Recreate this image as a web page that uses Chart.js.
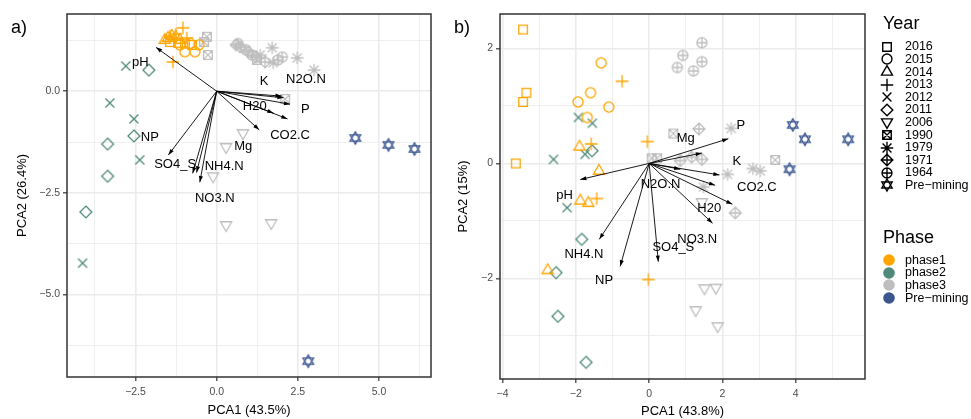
<!DOCTYPE html>
<html>
<head>
<meta charset="utf-8">
<script src="https://cdn.jsdelivr.net/npm/chart.js@4.4.1/dist/chart.umd.min.js"></script>
<style>
body { margin:0; background:#fff; font-family:"Liberation Sans", Arial, sans-serif; }
#wrap { position:relative; width:971px; height:419px; overflow:hidden; }
canvas.plot { position:absolute; top:0; }
.panel { position:absolute; top:18px; font-size:18px; line-height:18px; }
.lgTitle { position:absolute; left:883px; font-size:18px; line-height:18px; }
.lgRow { position:absolute; left:905px; font-size:12.5px; line-height:12.6px; white-space:nowrap; }
.lgKey { position:absolute; }
</style>
</head>
<body>
<div id="wrap">
  <canvas id="pa" class="plot" width="440" height="419" style="left:0"></canvas>
  <canvas id="pb" class="plot" width="430" height="419" style="left:440px"></canvas>
  <div class="panel" style="left:11px">a)</div>
  <div class="panel" style="left:454px">b)</div>
  <div id="legend"></div>
</div>
<script>
// categories
const years = ['2016', '2015', '2014', '2013', '2012', '2011', '2006', '1990', '1979', '1971', '1964', 'Pre−mining'];
const yearPhase = [0, 0, 0, 0, 1, 1, 2, 2, 2, 2, 2, 3];
const phases = ['phase1', 'phase2', 'phase3', 'Pre−mining'];
const loadNames = ['pH', 'K', 'N2O.N', 'P', 'H20', 'CO2.C', 'Mg', 'NP', 'SO4_S', 'NH4.N', 'NO3.N'];

// panel a scores (PCA1, PCA2)
const a2016 = [[-1.44, 1.21], [-1.19, 1.19], [-0.98, 1.17], [-0.76, 1.14]];
const a2015 = [[-0.98, 0.97], [-0.67, 0.97], [-0.82, 1.17], [-0.55, 1.14], [-1.13, 1.14]];
const a2014 = [[-1.50, 1.31], [-1.38, 1.36], [-1.26, 1.34], [-1.13, 1.26], [-1.60, 1.26]];
const a2013 = [[-1.04, 1.56], [-1.35, 0.72], [-1.26, 1.41], [-0.92, 1.31], [-1.44, 1.36]];
const a2012 = [[-2.80, 0.62], [-3.29, -0.29], [-2.55, -0.68], [-2.37, -1.69], [-4.13, -4.23]];
const a2011 = [[-2.09, 0.52], [-2.55, -1.10], [-3.36, -1.30], [-3.36, -2.09], [-4.03, -2.97]];
const a2006 = [[0.81, -1.03], [0.29, -1.37], [-0.11, -2.09], [0.29, -3.29], [1.68, -3.24]];
const a1990 = [[-0.30, 1.34], [-0.39, 1.21], [-0.27, 0.89], [2.11, -0.19], [1.24, 0.77]];
const a1979 = [[1.71, 1.07], [2.48, 0.82], [3.00, 0.52], [1.74, 0.70], [1.34, 0.89]];
const a1971 = [[0.72, 1.09], [0.97, 0.97], [1.21, 0.84], [1.49, 0.72], [0.60, 1.14]];
const a1964 = [[0.66, 1.17], [0.90, 1.02], [1.09, 0.89], [1.89, 0.77], [2.02, 0.84]];
const aPre = [[4.27, -1.15], [5.29, -1.32], [6.09, -1.42], [2.82, -6.64]];

// panel b scores
const b2016 = [[-3.44, 2.33], [-3.35, 1.23], [-3.44, 1.07], [-3.64, 0.00]];
const b2015 = [[-1.31, 1.75], [-1.60, 1.23], [-1.94, 1.07], [-1.10, 0.98], [-1.69, 0.80]];
const b2014 = [[-1.90, 0.29], [-1.37, -0.13], [-1.88, -0.65], [-1.66, -0.69], [-2.77, -1.86]];
const b2013 = [[-0.74, 1.43], [-0.05, 0.38], [-1.58, 0.34], [-1.43, -0.61], [-0.02, -2.02]];
const b2012 = [[-1.93, 0.80], [-1.55, 0.70], [-2.61, 0.07], [-1.75, 0.16], [-2.24, -0.77]];
const b2011 = [[-1.56, 0.22], [-1.84, -1.32], [-2.54, -1.90], [-2.49, -2.66], [-1.72, -3.46]];
const b2006 = [[1.44, -0.67], [1.51, -2.17], [1.82, -2.16], [1.27, -2.55], [1.87, -2.83]];
const b1990 = [[0.66, 0.52], [0.07, 0.09], [0.22, 0.09], [3.44, 0.06]];
const b1979 = [[2.24, 0.61], [2.14, -0.19], [2.83, -0.09], [3.03, -0.13], [1.48, -0.41]];
const b1971 = [[1.36, 0.60], [0.85, 0.05], [1.16, 0.11], [1.44, 0.07], [2.35, -0.86]];
const b1964 = [[1.44, 2.10], [0.92, 1.88], [1.44, 1.77], [0.77, 1.67], [1.21, 1.61]];
const bPre = [[3.92, 0.67], [4.25, 0.42], [5.43, 0.42], [3.83, -0.10]];

// loadings (arrow tips) and label positions, same order as loadNames
const aLoadX = [-1.87, 2.00, 2.06, 2.26, 2.18, 1.31, 1.75, -0.74, -1.49, -0.62, -0.52];
const aLoadY = [1.08, -0.12, -0.16, -0.32, -0.68, -0.95, -0.54, -2.02, -1.57, -2.00, -2.24];
const aLabX = [-2.35, 1.46, 2.75, 2.73, 1.17, 2.26, 0.82, -2.06, -1.28, 0.23, -0.06];
const aLabY = [0.70, 0.25, 0.28, -0.44, -0.38, -1.08, -1.36, -1.13, -1.79, -1.86, -2.64];

const bLoadX = [-1.88, 0.85, 1.80, 2.16, 2.27, 1.92, 1.44, -0.79, 0.25, -1.36, 1.73];
const bLoadY = [-0.28, -0.10, -0.38, 0.43, -0.71, -0.20, 0.18, -1.79, -1.71, -1.32, -1.04];
const bLabX = [-2.31, 2.39, 0.31, 2.50, 1.64, 2.94, 1.00, -1.23, 0.66, -1.78, 1.31];
const bLabY = [-0.55, 0.03, -0.36, 0.67, -0.78, -0.41, 0.43, -2.04, -1.46, -1.59, -1.32];

// styles
const yearShapes = ['square', 'circle', 'triangle', 'plus', 'cross', 'diamond', 'triangleDown',
                    'squareCross', 'asterisk', 'diamondPlus', 'circlePlus', 'starDavid'];
const phaseColors = ['#FFA500', '#4F8A7A', '#BEBEBE', '#3A5590'];

function tri(ctx, cx, cy, r, dir){
    for (let k = 0; k < 3; k++){
        const ang = (-90 + 120 * k) * Math.PI / 180;
        const px = cx + r * Math.cos(ang), py = cy + dir * r * Math.sin(ang);
        if (k) ctx.lineTo(px, py); else ctx.moveTo(px, py);
    }
    ctx.closePath();
}

function drawShape(ctx, shape, cx, cy, s){
    ctx.beginPath();
    const d = s * 0.82;
    if (shape === 'square' || shape === 'squareCross'){
        ctx.rect(cx - d, cy - d, 2 * d, 2 * d);
        if (shape === 'squareCross'){
            ctx.moveTo(cx - d, cy - d); ctx.lineTo(cx + d, cy + d);
            ctx.moveTo(cx + d, cy - d); ctx.lineTo(cx - d, cy + d);
        }
    }
    if (shape === 'circle' || shape === 'circlePlus'){
        const r = s * 0.95;
        ctx.moveTo(cx + r, cy);
        ctx.arc(cx, cy, r, 0, 2 * Math.PI);
        if (shape === 'circlePlus'){
            ctx.moveTo(cx - r, cy); ctx.lineTo(cx + r, cy);
            ctx.moveTo(cx, cy - r); ctx.lineTo(cx, cy + r);
        }
    }
    if (shape === 'triangle') tri(ctx, cx, cy, s * 1.22, 1);
    if (shape === 'triangleDown') tri(ctx, cx, cy, s * 1.22, -1);
    if (shape === 'starDavid'){
        tri(ctx, cx, cy, s * 1.15, 1);
        tri(ctx, cx, cy, s * 1.15, -1);
    }
    if (shape === 'plus' || shape === 'asterisk'){
        const p = s * 1.2;
        ctx.moveTo(cx - p, cy); ctx.lineTo(cx + p, cy);
        ctx.moveTo(cx, cy - p); ctx.lineTo(cx, cy + p);
    }
    if (shape === 'cross' || shape === 'asterisk'){
        const c = s * 0.85;
        ctx.moveTo(cx - c, cy - c); ctx.lineTo(cx + c, cy + c);
        ctx.moveTo(cx + c, cy - c); ctx.lineTo(cx - c, cy + c);
    }
    if (shape === 'diamond' || shape === 'diamondPlus'){
        const q = s * 1.12;
        ctx.moveTo(cx, cy - q); ctx.lineTo(cx + q, cy); ctx.lineTo(cx, cy + q); ctx.lineTo(cx - q, cy);
        ctx.closePath();
        if (shape === 'diamondPlus'){
            ctx.moveTo(cx - q, cy); ctx.lineTo(cx + q, cy);
            ctx.moveTo(cx, cy - q); ctx.lineTo(cx, cy + q);
        }
    }
    ctx.stroke();
}

function symbol(shape, color, s, lw){
    const c = document.createElement('canvas');
    c.width = 24; c.height = 24;
    const ctx = c.getContext('2d');
    ctx.strokeStyle = color;
    ctx.lineWidth = lw;
    drawShape(ctx, shape, 12, 12, s);
    return c;
}

// arrowheads, loading labels and the panel border
const biplot = {
    id: 'biplot',
    afterDatasetsDraw(chart, args, opts){
        const ctx = chart.ctx;
        ctx.save();
        chart.data.datasets.forEach(function(ds, i){
            if (!ds.arrow) return;
            const pts = chart.getDatasetMeta(i).data;
            const x0 = pts[0].x, y0 = pts[0].y, x1 = pts[1].x, y1 = pts[1].y;
            const ang = Math.atan2(y1 - y0, x1 - x0), L = 6.5, w = 0.32;
            ctx.fillStyle = '#000';
            ctx.beginPath();
            ctx.moveTo(x1, y1);
            ctx.lineTo(x1 - L * Math.cos(ang - w), y1 - L * Math.sin(ang - w));
            ctx.lineTo(x1 - L * Math.cos(ang + w), y1 - L * Math.sin(ang + w));
            ctx.closePath();
            ctx.fill();
        });
        const xs = chart.scales.x, ys = chart.scales.y;
        ctx.font = '13px "Liberation Sans", Arial, sans-serif';
        ctx.fillStyle = '#000';
        ctx.textAlign = 'center';
        ctx.textBaseline = 'middle';
        loadNames.forEach(function(n, i){
            ctx.fillText(n, xs.getPixelForValue(opts.lx[i]), ys.getPixelForValue(opts.ly[i]));
        });
        const ca = chart.chartArea;
        ctx.strokeStyle = '#333333';
        ctx.lineWidth = 1.5;
        ctx.strokeRect(ca.left, ca.top, ca.right - ca.left, ca.bottom - ca.top);
        ctx.restore();
    }
};

function crearBiplot(id, scores, loadX, loadY, labX, labY, cfg){

    const isMajor = v => Math.abs(v / cfg.major - Math.round(v / cfg.major)) < 1e-6;

    const puntos = scores.map(function(pts, i){
        return {
            type: 'scatter',
            data: pts.map(p => ({x: p[0], y: p[1]})),
            pointStyle: symbol(yearShapes[i], phaseColors[yearPhase[i]], 5.3, 1.3),
            order: 1
        };
    });

    const flechas = loadNames.map(function(n, i){
        return {
            type: 'line',
            data: [{x: 0, y: 0}, {x: loadX[i], y: loadY[i]}],
            borderColor: '#000',
            borderWidth: 0.9,
            pointRadius: 0,
            arrow: true,
            order: 0
        };
    });

    function eje(min, max, step, title, fit, titlePad, tickPad, fmt){
        return {
            type: 'linear',
            min: min,
            max: max,
            afterFit: fit,
            border: {display: false},
            ticks: {
                stepSize: step,
                includeBounds: false,
                autoSkip: false,
                maxRotation: 0,
                padding: tickPad,
                color: '#4D4D4D',
                font: {size: 10.5, family: '"Liberation Sans", Arial, sans-serif'},
                callback: v => isMajor(v) ? fmt(v) : ''
            },
            grid: {
                color: '#EBEBEB',
                lineWidth: c => isMajor(c.tick.value) ? 1.6 : 0.8,
                tickLength: 4,
                tickWidth: 1.2,
                tickColor: c => isMajor(c.tick.value) ? '#333333' : 'rgba(0,0,0,0)'
            },
            title: {
                display: true,
                text: title,
                color: '#000',
                font: {size: 13, family: '"Liberation Sans", Arial, sans-serif'},
                padding: titlePad
            }
        };
    }

    return new Chart(document.getElementById(id), {
        type: 'scatter',
        data: {datasets: flechas.concat(puntos)},
        options: {
            responsive: false,
            animation: false,
            devicePixelRatio: 1,
            layout: {padding: cfg.padding},
            plugins: {
                legend: {display: false},
                tooltip: {enabled: false},
                biplot: {lx: labX, ly: labY}
            },
            scales: {
                x: eje(cfg.xMin, cfg.xMax, cfg.step, cfg.xTitle, s => { s.height = cfg.xHeight; },
                       {top: 0, bottom: cfg.xTitlePad}, 5, cfg.fmt),
                y: eje(cfg.yMin, cfg.yMax, cfg.step, cfg.yTitle, s => { s.width = cfg.yWidth; },
                       {top: cfg.yTitlePad, bottom: 0}, 3, cfg.fmt)
            }
        },
        plugins: [biplot]
    });
}

const menos = s => s.replace('-', '\u2212');

crearBiplot('pa',
    [a2016, a2015, a2014, a2013, a2012, a2011, a2006, a1990, a1979, a1971, a1964, aPre],
    aLoadX, aLoadY, aLabX, aLabY,
    {
        xMin: -4.61, xMax: 6.6, yMin: -7.03, yMax: 1.90, step: 1.25, major: 2.5,
        xTitle: 'PCA1 (43.5%)', yTitle: 'PCA2 (26.4%)',
        padding: {left: 0, top: 14, right: 9, bottom: 0},
        xHeight: 42, yWidth: 67, xTitlePad: 1.2, yTitlePad: 14.2,
        fmt: v => menos(v.toFixed(1))
    }
);

crearBiplot('pb',
    [b2016, b2015, b2014, b2013, b2012, b2011, b2006, b1990, b1979, b1971, b1964, bPre],
    bLoadX, bLoadY, bLabX, bLabY,
    {
        xMin: -4.07, xMax: 5.89, yMin: -3.75, yMax: 2.60, step: 1, major: 2,
        xTitle: 'PCA1 (43.8%)', yTitle: 'PCA2 (15%)',
        padding: {left: 0, top: 14, right: 5, bottom: 0},
        xHeight: 40, yWidth: 60, xTitlePad: 0, yTitlePad: 15.2,
        fmt: v => menos(String(Math.round(v)))
    }
);

// legend
const leyenda = document.getElementById('legend');
function addTitle(text, cy){
    const d = document.createElement('div');
    d.className = 'lgTitle';
    d.style.top = (cy - 9) + 'px';
    d.textContent = text;
    leyenda.appendChild(d);
}
function addRow(text, key, kx, cy){
    key.className = 'lgKey';
    key.style.left = (kx - 12) + 'px';
    key.style.top = (cy - 12) + 'px';
    leyenda.appendChild(key);
    const d = document.createElement('div');
    d.className = 'lgRow';
    d.style.top = (cy - 6.3) + 'px';
    d.textContent = text;
    leyenda.appendChild(d);
}

addTitle('Year', 23);
years.forEach(function(y, i){
    addRow(y, symbol(yearShapes[i], '#000', 5.2, 1.4), 887, 46.7 + 12.6 * i);
});

addTitle('Phase', 236.7);
phases.forEach(function(p, i){
    const c = document.createElement('canvas');
    c.width = 24; c.height = 24;
    const ctx = c.getContext('2d');
    ctx.fillStyle = phaseColors[i];
    ctx.beginPath();
    ctx.arc(12, 12, 5.8, 0, 2 * Math.PI);
    ctx.fill();
    addRow(p, c, 889, 260 + 12.6 * i);
});
</script>
</body>
</html>
